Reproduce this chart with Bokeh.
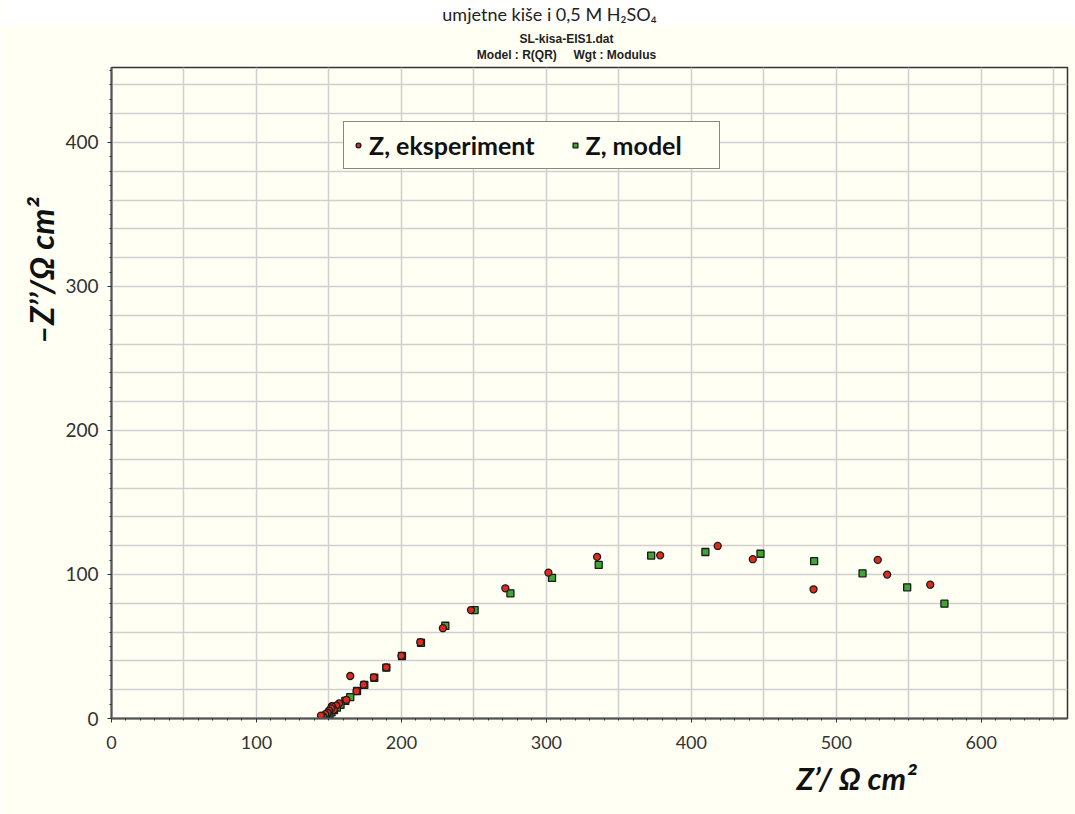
import numpy as np
from bokeh.plotting import figure
from bokeh.models import Label, Legend, LegendItem, FixedTicker, Range1d, Title, BoxAnnotation
from bokeh.layouts import column
from bokeh.embed import file_html
from bokeh.resources import INLINE

# ---------------- data ----------------
title_text = "umjetne kiše i 0,5 M H₂SO₄"
subtitle_1 = "SL-kisa-EIS1.dat"
subtitle_2 = "Model : R(QR)\u00a0\u00a0\u00a0\u00a0\u00a0Wgt : Modulus"
x_title = "Z’/ Ω cm²"
y_title = "–Z’’/Ω cm²"
legend_labels = ["Z, eksperiment", "Z, model"]

x_ticks = [0, 100, 200, 300, 400, 500, 600]
y_ticks = [0, 100, 200, 300, 400]

# experiment (Z', -Z'')
exp_re = [564.8, 535.1, 528.6, 484.3, 442.4, 418.2, 378.5, 335.0, 301.4, 271.7,
          248.0, 228.6, 213.0, 200.0, 189.5, 181.0, 164.7, 174.0, 169.0, 162.0,
          157.0, 155.0, 153.5, 152.0, 151.5, 150.0, 149.0, 147.5, 146.0, 144.5]
exp_im = [92.9, 99.9, 110.1, 89.7, 110.6, 119.8, 113.3, 112.2, 101.3, 90.4,
          75.3, 62.7, 53.0, 43.5, 35.5, 28.5, 29.5, 23.5, 19.0, 13.0,
          10.5, 9.0, 6.0, 8.5, 7.0, 5.5, 4.0, 3.0, 1.5, 2.0]

# model (Z', -Z'')
mod_re = [574.6, 548.9, 518.1, 484.7, 447.7, 409.7, 372.3, 336.1, 303.9, 275.2,
          250.5, 230.3, 213.5, 200.4, 189.6, 181.3, 174.4, 169.4, 164.7, 161.3,
          158.0, 155.5, 153.5, 151.8, 150.3, 149.0, 148.0, 147.2]
mod_im = [79.7, 91.1, 100.8, 109.2, 114.4, 115.6, 113.1, 106.6, 97.6, 86.9,
          75.3, 64.4, 52.6, 43.4, 35.3, 28.3, 23.3, 19.1, 14.9, 12.2,
          9.5, 7.5, 5.8, 4.3, 3.0, 2.0, 1.2, 0.6]

# ---------------- styling ----------------
IVORY = "#FFFFF4"
TXT_FONT = "Lato"
W = 1075
TOP_H = 66
MAIN_H = 692
BOT_H = 814 - TOP_H - MAIN_H


def strip(h):
    f = figure(width=W, height=h, x_range=Range1d(0, W), y_range=Range1d(0, h),
               output_backend="svg", toolbar_location=None, x_axis_type=None,
               y_axis_type=None, min_border=0, background_fill_color=IVORY,
               border_fill_color=IVORY, outline_line_color=None, frame_align=False)
    f.grid.visible = False
    return f


# top strip: white band with page title, then the two file/model lines
top = strip(TOP_H)
top.add_layout(BoxAnnotation(bottom=TOP_H - 25, fill_color="white", fill_alpha=1.0,
                             line_color=None))
top.add_layout(Label(x=549, y=TOP_H - 13, text=title_text, text_align="center",
                     text_baseline="middle", text_font=TXT_FONT, text_font_size="18px",
                     text_color="#222222"))
for yy, txt in ((TOP_H - 38.5, subtitle_1), (TOP_H - 54, subtitle_2)):
    top.add_layout(Label(x=566, y=yy, text=txt, text_align="center", text_baseline="middle",
                         text_font="Liberation Sans", text_font_style="bold",
                         text_font_size="12px", text_color="#222222"))

# main plot
p = figure(width=W, height=MAIN_H, x_range=Range1d(0, 659.5), y_range=Range1d(0, 452),
           output_backend="svg", toolbar_location=None, frame_align=False,
           min_border_left=111, min_border_right=8, min_border_top=1, min_border_bottom=40,
           background_fill_color=IVORY, border_fill_color=IVORY,
           outline_line_color="#333333", outline_line_width=1.5)

p.xaxis.ticker = FixedTicker(ticks=x_ticks, minor_ticks=list(np.arange(0, 660, 10)))
p.yaxis.ticker = FixedTicker(ticks=y_ticks, minor_ticks=list(np.arange(0, 452, 10)))
p.xgrid.ticker = FixedTicker(ticks=list(np.arange(0, 660, 50)))
p.ygrid.ticker = FixedTicker(ticks=list(np.arange(0, 452, 20)))
p.grid.grid_line_color = "#cfcfcf"
p.grid.grid_line_width = 1.5

for ax in (p.xaxis, p.yaxis):
    ax.axis_line_color = "#555555"
    ax.axis_line_width = 2
    ax.major_tick_in = 0
    ax.major_tick_out = 4
    ax.minor_tick_in = 0
    ax.minor_tick_out = 2
    ax.major_tick_line_color = "#1f3a3a"
    ax.minor_tick_line_color = "#1f3a3a"
    ax.major_label_text_font = TXT_FONT
    ax.major_label_text_color = "#333333"

p.xaxis.major_label_text_font_size = "18px"
p.xaxis.major_label_standoff = 13
p.yaxis.major_label_text_font_size = "19px"
p.yaxis.major_label_standoff = 9

r_mod = p.scatter(mod_re, mod_im, marker="square", size=7, fill_color="#3FA535",
                  line_color="#1a1a1a", line_width=1.3)
r_exp = p.scatter(exp_re, exp_im, marker="circle", size=7, fill_color="#E02A1E",
                  line_color="#1a1a1a", line_width=1.3)

legend = Legend(items=[LegendItem(label=legend_labels[0], renderers=[r_exp]),
                       LegendItem(label=legend_labels[1], renderers=[r_mod])],
                orientation="horizontal", location=(232, 549),
                label_text_font=TXT_FONT, label_text_font_style="bold",
                label_text_font_size="25px", label_text_color="#111111",
                border_line_color="#111111", border_line_width=1.5,
                background_fill_color=IVORY, background_fill_alpha=1.0,
                padding=8, margin=0, spacing=34, label_standoff=5,
                label_width=125, glyph_width=12, glyph_height=20)
p.add_layout(legend)

p.add_layout(Title(text=y_title, align="right", offset=130, standoff=4,
                   text_font=TXT_FONT, text_font_style="bold italic", text_font_size="33px",
                   text_color="#111111"), "left")

# bottom strip with the x axis title
bot = strip(BOT_H)
bot.add_layout(Label(x=856, y=BOT_H - 19, text=x_title, text_align="center",
                     text_baseline="middle", text_font=TXT_FONT,
                     text_font_style="bold italic", text_font_size="31px",
                     text_color="#111111"))

layout = column(top, p, bot, spacing=0)
open("out.html", "w").write(file_html(layout, INLINE))
